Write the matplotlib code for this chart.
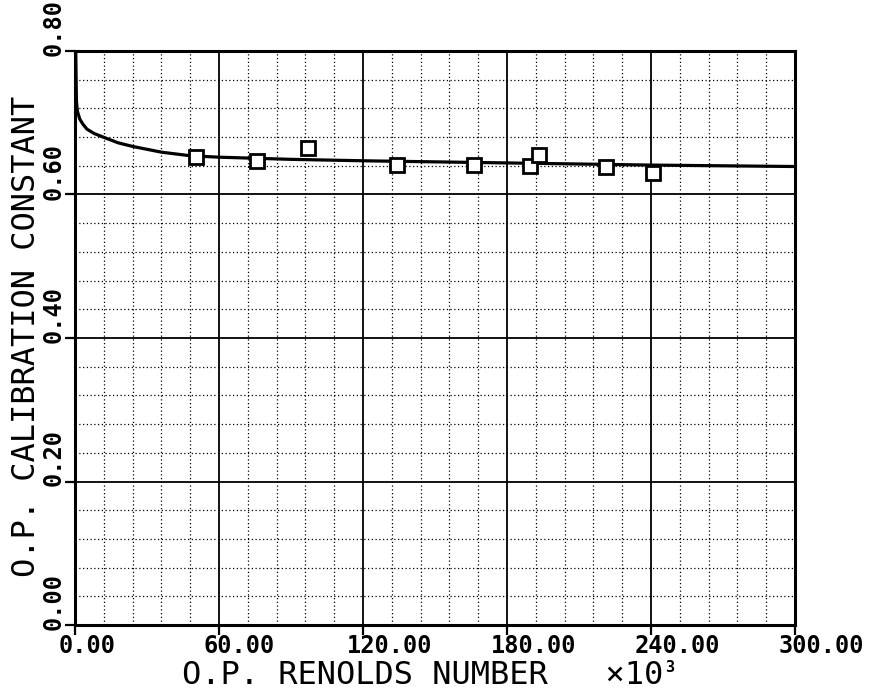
import matplotlib
matplotlib.use("Agg")
import matplotlib.pyplot as plt
from matplotlib.ticker import MultipleLocator
import matplotlib.transforms as mtrans

# measured points (Reynolds number x 10^3, calibration constant)
re_points = [50.4, 75.8, 97.1, 134.2, 166.3, 189.6, 193.3, 221.3, 240.8]
k_points = [0.652, 0.647, 0.665, 0.641, 0.641, 0.640, 0.655, 0.638, 0.630]

# fitted curve
re_curve = [0.3, 0.6, 1.0, 2.0, 3.3, 5.0, 8.0, 12.5, 18.0, 24.0, 36.0, 48.0, 60.0,
            90.0, 120.0, 180.0, 240.0, 300.0]
k_curve = [0.800, 0.730, 0.716, 0.705, 0.698, 0.691, 0.685, 0.679, 0.672, 0.667, 0.659,
           0.654, 0.652, 0.649, 0.647, 0.644, 0.641, 0.639]

x_ticks = [0, 60, 120, 180, 240, 300]
y_ticks = [0.0, 0.2, 0.4, 0.6, 0.8]

font = "DejaVu Sans Mono"

fig = plt.figure(figsize=(8.72, 6.92), dpi=100)
ax = fig.add_axes([75 / 872, 67 / 692, 720 / 872, 574 / 692])

ax.set_xlim(0, 300)
ax.set_ylim(0, 0.8)
ax.xaxis.set_major_locator(MultipleLocator(60))
ax.xaxis.set_minor_locator(MultipleLocator(12))
ax.yaxis.set_major_locator(MultipleLocator(0.2))
ax.yaxis.set_minor_locator(MultipleLocator(0.04))

ax.grid(which="major", color="black", linewidth=1.3, linestyle="-")
ax.grid(which="minor", color="black", linewidth=0.9, linestyle=(0, (1, 2)))
ax.set_axisbelow(True)

for s in ax.spines.values():
    s.set_linewidth(2.2)

ax.tick_params(which="major", direction="out", length=7, width=1.6, labelbottom=False, labelleft=False)
ax.tick_params(which="minor", length=0)

ax.plot(re_curve, k_curve, color="black", linewidth=2.3, zorder=3)
ax.plot(re_points, k_points, linestyle="none", marker="s", markersize=10,
        markerfacecolor="white", markeredgecolor="black", markeredgewidth=2.0, zorder=4)

# tick labels, placed like the plotter did
for xv in x_ticks:
    tr = ax.get_xaxis_transform() + mtrans.ScaledTranslation(-16 / 100, -9 / 100, fig.dpi_scale_trans)
    ax.text(xv, 0, "%.2f" % xv, transform=tr, ha="left", va="top",
            fontsize=17, family=font, weight="bold", clip_on=False)
for yv in y_ticks:
    tr = ax.get_yaxis_transform() + mtrans.ScaledTranslation(-9 / 100, -5 / 100, fig.dpi_scale_trans)
    ax.text(0, yv, "%.2f" % yv, transform=tr, ha="right", va="bottom", rotation=90,
            fontsize=17, family=font, weight="bold", clip_on=False)

fig.text(182 / 872, 1 - 675 / 692, "O.P. RENOLDS NUMBER   \u00d710", ha="left", va="center",
         fontsize=23, family=font)
fig.text(665 / 872, 1 - 667 / 692, "3", ha="left", va="center", fontsize=11, family=font,
         weight="bold")
fig.text(27 / 872, 1 - 336 / 692, "O.P. CALIBRATION CONSTANT", ha="center", va="center",
         rotation=90, fontsize=23, family=font)

fig.savefig("out.png", dpi=100)
